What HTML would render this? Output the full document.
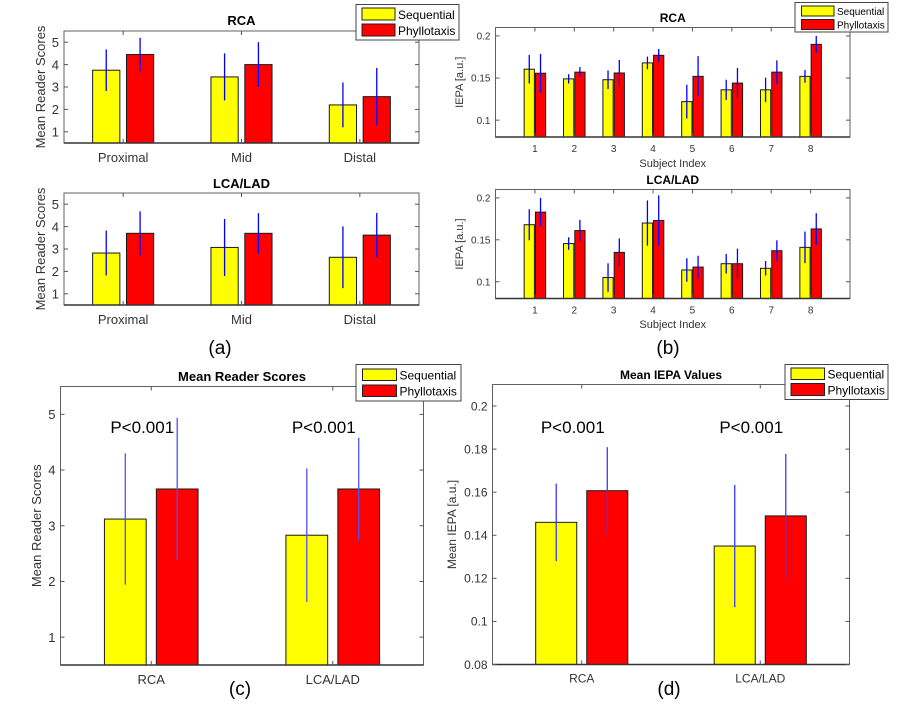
<!DOCTYPE html>
<html><head><meta charset="utf-8">
<style>
html,body{margin:0;padding:0;background:#fff;}
svg{display:block;font-family:"Liberation Sans",sans-serif;}
</style></head>
<body>
<svg id="fig" width="897" height="709" viewBox="0 0 897 709" xmlns="http://www.w3.org/2000/svg"></svg>
<script>
// ---- Data ----
const seriesNames = ["Sequential", "Phyllotaxis"];
const segCategories = ["Proximal", "Mid", "Distal"];
const aRcaSeq = [3.75, 3.45, 2.2];
const aRcaSeqErr = [0.93, 1.05, 1.0];
const aRcaPhy = [4.45, 4.0, 2.57];
const aRcaPhyErr = [0.75, 1.0, 1.28];
const aLcaSeq = [2.82, 3.07, 2.63];
const aLcaSeqErr = [1.0, 1.27, 1.38];
const aLcaPhy = [3.7, 3.7, 3.62];
const aLcaPhyErr = [0.98, 0.9, 0.99];
const scoreTicks = [1, 2, 3, 4, 5];

const subjects = ["1", "2", "3", "4", "5", "6", "7", "8"];
const bRcaSeq = [0.1605, 0.149, 0.148, 0.168, 0.122, 0.136, 0.136, 0.152];
const bRcaSeqErr = [0.017, 0.0055, 0.011, 0.0075, 0.020, 0.012, 0.0145, 0.0075];
const bRcaPhy = [0.1557, 0.157, 0.156, 0.177, 0.152, 0.144, 0.157, 0.190];
const bRcaPhyErr = [0.023, 0.006, 0.0155, 0.0075, 0.024, 0.018, 0.014, 0.010];
const bLcaSeq = [0.168, 0.1455, 0.105, 0.170, 0.114, 0.1215, 0.116, 0.141];
const bLcaSeqErr = [0.0185, 0.0075, 0.017, 0.027, 0.014, 0.0117, 0.0087, 0.0188];
const bLcaPhy = [0.183, 0.161, 0.135, 0.173, 0.1175, 0.1215, 0.137, 0.163];
const bLcaPhyErr = [0.017, 0.0128, 0.0166, 0.030, 0.0135, 0.018, 0.0124, 0.0188];
const iepaTicksB = [0.1, 0.15, 0.2];
const iepaTickLabelsB = ["0.1", "0.15", "0.2"];

const vesselCategories = ["RCA", "LCA/LAD"];
const cSeq = [3.12, 2.83];
const cSeqErr = [1.18, 1.2];
const cPhy = [3.66, 3.66];
const cPhyErr = [1.28, 0.92];
const dSeq = [0.146, 0.135];
const dSeqErr = [0.018, 0.0284];
const dPhy = [0.1607, 0.149];
const dPhyErr = [0.0202, 0.0288];
const iepaTicksD = [0.08, 0.1, 0.12, 0.14, 0.16, 0.18, 0.2];
const iepaTickLabelsD = ["0.08", "0.1", "0.12", "0.14", "0.16", "0.18", "0.2"];
const pLabels = ["P<0.001", "P<0.001"];

// ---- Drawing ----
const NS = "http://www.w3.org/2000/svg";
const svg = document.getElementById("fig");
function mk(tag, attrs, parent, text) {
  const e = document.createElementNS(NS, tag);
  for (const k in attrs) e.setAttribute(k, attrs[k]);
  if (text !== undefined) e.textContent = text;
  (parent || svg).appendChild(e);
  return e;
}

function panel(cfg) {
  const g = mk("g", {});
  
  
  const sx = v => cfg.x0 + (v - cfg.xMin) / (cfg.xMax - cfg.xMin) * (cfg.x1 - cfg.x0);
  const sy = v => cfg.y1 - (v - cfg.yMin) / (cfg.yMax - cfg.yMin) * (cfg.y1 - cfg.y0);
  // bars
  const series = [[cfg.seq, cfg.seqErr, "#ffff00", -0.143], [cfg.phy, cfg.phyErr, "#ff0000", 0.143]];
  series.forEach((s, si) => {
    s[0].forEach((v, i) => {
      const cx = sx(i + 1 + s[3]);
      const w = sx(cfg.xMin + cfg.bw) - sx(cfg.xMin);
      const r = mk("rect", {x: cx - w / 2, y: sy(v), width: w, height: cfg.y1 - sy(v), fill: s[2], stroke: "#1a1a1a", "stroke-width": 1}, g);
      
      
    });
  });
  series.forEach((s, si) => {
    s[0].forEach((v, i) => {
      const cx = sx(i + 1 + s[3]);
      const e = s[1][i];
      const l = mk("line", {x1: cx, x2: cx, y1: sy(v + e), y2: sy(v - e), stroke: cfg.errColor, "stroke-width": cfg.errW}, g);
      
      
    });
  });
  // axes box
  const box = mk("rect", {x: cfg.x0, y: cfg.y0, width: cfg.x1 - cfg.x0, height: cfg.y1 - cfg.y0, fill: "none", stroke: "#606060", "stroke-width": 1}, g);
  
  
  mk("line", {x1: cfg.x0, x2: cfg.x1, y1: cfg.y1, y2: cfg.y1, stroke: "#333", "stroke-width": 1.5}, g);
  // y ticks
  cfg.yTicks.forEach((t, i) => {
    const y = sy(t);
    mk("line", {x1: cfg.x0, x2: cfg.x0 + 4, y1: y, y2: y, stroke: "#555"}, g);
    mk("line", {x1: cfg.x1, x2: cfg.x1 - 4, y1: y, y2: y, stroke: "#555"}, g);
    const tl = mk("text", {x: cfg.x0 - 5, y: y + cfg.tickFs * 0.36, "text-anchor": "end", "font-size": cfg.tickFs, fill: "#333"}, g, cfg.yTickLabels ? cfg.yTickLabels[i] : String(t));
    
    
  });
  // x ticks
  cfg.cats.forEach((c, i) => {
    const x = sx(i + 1);
    mk("line", {x1: x, x2: x, y1: cfg.y1, y2: cfg.y1 - 4, stroke: "#555"}, g);
    mk("line", {x1: x, x2: x, y1: cfg.y0, y2: cfg.y0 + 4, stroke: "#555"}, g);
    const tl = mk("text", {x: x, y: cfg.y1 + cfg.xLabOff, "text-anchor": "middle", "font-size": cfg.xFs, fill: "#333"}, g, c);
    
    
  });
  // title
  const tt = mk("text", {x: (cfg.x0 + cfg.x1) / 2, y: cfg.titleY, "text-anchor": "middle", "font-size": cfg.titleFs, "font-weight": "bold", fill: "#000"}, g, cfg.title);
  
  
  // y label
  const cy = (cfg.y0 + cfg.y1) / 2;
  const yl = mk("text", {x: cfg.yLabX, y: cy, transform: `rotate(-90 ${cfg.yLabX} ${cy})`, "text-anchor": "middle", "font-size": cfg.yLabFs, fill: "#333"}, g, cfg.yLabel);
  
  
  if (cfg.xLabel) {
    const xl = mk("text", {x: (cfg.x0 + cfg.x1) / 2, y: cfg.xLabY, "text-anchor": "middle", "font-size": cfg.xLabFs, fill: "#333"}, g, cfg.xLabel);
    
    
  }
  if (cfg.pLabels) {
    cfg.pLabels.forEach((p, i) => {
      const pt = mk("text", {x: sx(i + 1) - 9, y: cfg.pY, "text-anchor": "middle", "font-size": 17, fill: "#000"}, g, p);
      
      
    });
  }
  return g;
}

function legend(x0, y0, x1, y1, sw0, sw1, rows, fs) {
  const g = mk("g", {});
  
  
  mk("rect", {x: x0, y: y0, width: x1 - x0, height: y1 - y0, fill: "#fff", stroke: "#444", "stroke-width": 1}, g);
  const cols = ["#ffff00", "#ff0000"];
  rows.forEach((r, i) => {
    const e = mk("g", {}, g);
    
    
    mk("rect", {x: sw0, y: r[0], width: sw1 - sw0, height: r[1] - r[0], fill: cols[i], stroke: "#222"}, e);
    mk("text", {x: sw1 + 3, y: r[1] - 1, "font-size": fs, fill: "#000"}, e, seriesNames[i]);
  });
}

function label(x, y, t) {
  const e = mk("text", {x: x, y: y, "text-anchor": "middle", "font-size": 19, fill: "#000"}, svg, t);
  
  
}

const common = {errColor: "#0000ff", errW: 1.3};
panel(Object.assign({}, common, {name: "panel-a-rca", x0: 64, x1: 419, y0: 31, y1: 143, xMin: 0.5, xMax: 3.5, yMin: 0.5, yMax: 5.5, bw: 0.23,
  seq: aRcaSeq, seqErr: aRcaSeqErr, phy: aRcaPhy, phyErr: aRcaPhyErr, yTicks: scoreTicks, cats: segCategories,
  tickFs: 13, xFs: 13, xLabOff: 19, title: "RCA", titleY: 25, titleFs: 13, yLabel: "Mean Reader Scores", yLabX: 45, yLabFs: 13}));
panel(Object.assign({}, common, {name: "panel-a-lca", x0: 64, x1: 419, y0: 193, y1: 305, xMin: 0.5, xMax: 3.5, yMin: 0.5, yMax: 5.5, bw: 0.23,
  seq: aLcaSeq, seqErr: aLcaSeqErr, phy: aLcaPhy, phyErr: aLcaPhyErr, yTicks: scoreTicks, cats: segCategories,
  tickFs: 13, xFs: 13, xLabOff: 19, title: "LCA/LAD", titleY: 188, titleFs: 13, yLabel: "Mean Reader Scores", yLabX: 45, yLabFs: 13}));
panel(Object.assign({}, common, {name: "panel-b-rca", x0: 495.5, x1: 850, y0: 27.5, y1: 137, xMin: 0, xMax: 9, yMin: 0.08, yMax: 0.21, bw: 0.26,
  seq: bRcaSeq, seqErr: bRcaSeqErr, phy: bRcaPhy, phyErr: bRcaPhyErr, yTicks: iepaTicksB, yTickLabels: iepaTickLabelsB, cats: subjects,
  tickFs: 10, xFs: 10, xLabOff: 15, title: "RCA", titleY: 22, titleFs: 12, yLabel: "IEPA [a.u.]", yLabX: 463, yLabFs: 11,
  xLabel: "Subject Index", xLabY: 167, xLabFs: 11}));
panel(Object.assign({}, common, {name: "panel-b-lca", x0: 495.5, x1: 850, y0: 189.5, y1: 298.5, xMin: 0, xMax: 9, yMin: 0.08, yMax: 0.21, bw: 0.26,
  seq: bLcaSeq, seqErr: bLcaSeqErr, phy: bLcaPhy, phyErr: bLcaPhyErr, yTicks: iepaTicksB, yTickLabels: iepaTickLabelsB, cats: subjects,
  tickFs: 10, xFs: 10, xLabOff: 15, title: "LCA/LAD", titleY: 184, titleFs: 12, yLabel: "IEPA [a.u.]", yLabX: 463, yLabFs: 11,
  xLabel: "Subject Index", xLabY: 328, xLabFs: 11}));
panel({name: "panel-c", errColor: "#5050ff", errW: 1.3, x0: 60.5, x1: 423.5, y0: 386.5, y1: 665, xMin: 0.5, xMax: 2.5, yMin: 0.5, yMax: 5.5, bw: 0.23,
  seq: cSeq, seqErr: cSeqErr, phy: cPhy, phyErr: cPhyErr, yTicks: scoreTicks, cats: vesselCategories,
  tickFs: 13, xFs: 13, xLabOff: 19, title: "Mean Reader Scores", titleY: 381, titleFs: 13, yLabel: "Mean Reader Scores", yLabX: 41, yLabFs: 13,
  pLabels: pLabels, pY: 433});
panel({name: "panel-d", errColor: "#3a3aff", errW: 1.3, x0: 492.5, x1: 849.5, y0: 384.5, y1: 664.5, xMin: 0.5, xMax: 2.5, yMin: 0.08, yMax: 0.21, bw: 0.23,
  seq: dSeq, seqErr: dSeqErr, phy: dPhy, phyErr: dPhyErr, yTicks: iepaTicksD, yTickLabels: iepaTickLabelsD, cats: vesselCategories,
  tickFs: 12, xFs: 12, xLabOff: 18, title: "Mean IEPA Values", titleY: 379, titleFs: 12, yLabel: "Mean IEPA [a.u.]", yLabX: 456, yLabFs: 12,
  pLabels: pLabels, pY: 433});

legend(356, 4.5, 459, 40, 362, 395, [[8, 20], [24, 36]], 12);
legend(795, 2.5, 888, 32, 801.5, 834, [[6, 16], [19.5, 29.5]], 10);
legend(356, 364.5, 461, 401, 362.5, 396.5, [[369, 380.5], [385, 396.5]], 12);
legend(785, 364.5, 888, 399.5, 791, 824.5, [[368, 379.5], [383.5, 395.5]], 12);

label(220, 354, "(a)");
label(668, 354, "(b)");
label(240, 695, "(c)");
label(669, 695, "(d)");
</script>
</body></html>
